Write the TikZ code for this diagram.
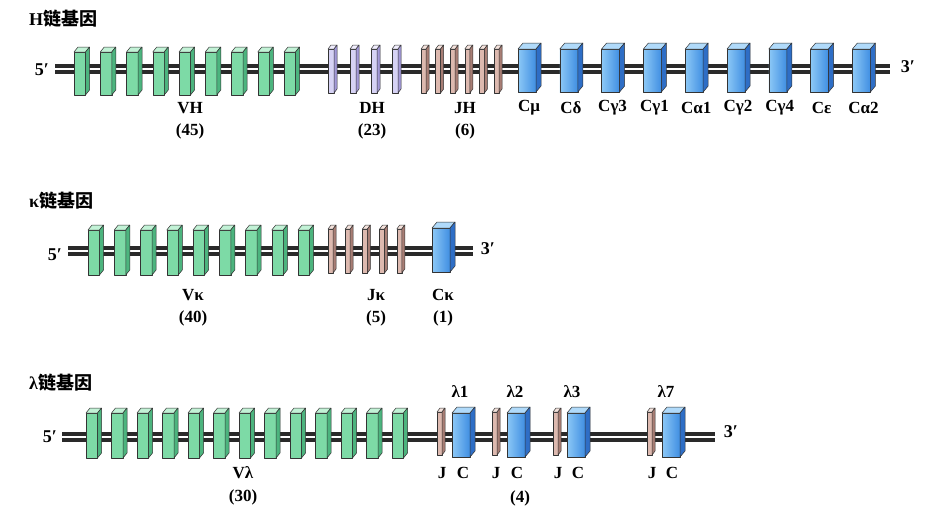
\documentclass[tikz,border=0pt]{standalone}
\usepackage{fontspec}
\setmainfont{Liberation Serif}
\newfontfamily\cjk{Noto Sans CJK SC}
\definecolor{greenfront}{HTML}{7DDAA6}
\definecolor{greentop}{HTML}{C2F2D6}
\definecolor{greenside}{HTML}{4CB47E}
\definecolor{purplefront}{HTML}{D6D2F5}
\definecolor{purpletop}{HTML}{F0EDFD}
\definecolor{purpleside}{HTML}{A399D8}
\definecolor{pinkfront}{HTML}{DDB9AF}
\definecolor{pinktop}{HTML}{F4E2DC}
\definecolor{pinkside}{HTML}{A87E75}
\definecolor{bluefront}{HTML}{5DA9EF}
\definecolor{bluelight}{HTML}{8CC8F6}
\definecolor{bluedark}{HTML}{3F8EE2}
\definecolor{bluetop}{HTML}{B0DAFA}
\definecolor{blueside}{HTML}{2E6EC6}
\definecolor{dnadark}{HTML}{2A2A2A}
\tikzset{
  boxline/.style={draw=black!80, line width=0.5pt, line join=round},
  lab/.style={font=\fontsize{17}{19}\selectfont\bfseries, inner sep=0pt},
  title/.style={font=\fontsize{18}{20}\selectfont\bfseries, inner sep=0pt, anchor=west},
  prime/.style={font=\fontsize{18}{20}\selectfont\bfseries, inner sep=0pt},
  greenfill/.style={fill=greenfront},
  purplefill/.style={fill=purplefront},
  pinkfill/.style={fill=pinkfront},
  bluefill/.style={left color=bluelight, right color=bluedark},
}
% x, front width, front top y, bottom y, dx, dy, colour prefix
\newcommand\genebox[7]{%
  \filldraw[boxline, #7fill] (#1,#3) rectangle (#1+#2,#4);
  \filldraw[boxline, fill=#7top] (#1,#3) -- (#1+#5,#3-#6) -- (#1+#2+#5,#3-#6) -- (#1+#2,#3) -- cycle;
  \filldraw[boxline, fill=#7side] (#1+#2,#3) -- (#1+#2+#5,#3-#6) -- (#1+#2+#5,#4-#6) -- (#1+#2,#4) -- cycle;
}
% dna line between two named coordinates
\newcommand\dna[2]{%
  \draw[dnadark, line width=9.5pt] (#1) -- (#2);
  \draw[white, line width=2.4pt] (#1) -- (#2);
}
\begin{document}
\begin{tikzpicture}[x=1pt,y=-1pt]
\useasboundingbox (0,0) rectangle (934,520);
\fill[white] (0,0) rectangle (934,520);

% ---------------- H chain ----------------
\node[title] (tH) at (29,19) {H{\cjk\bfseries 链基因}};
\coordinate (h5) at (55,69);
\coordinate (h3) at (890,69);
\dna{h5}{h3}
\foreach \i in {0,...,8} {\genebox{74+26.25*\i}{11.5}{52}{95}{4}{5}{green}}
\foreach \x in {328,350,371,392} {\genebox{\x}{6}{49}{93}{3}{4}{purple}}
\foreach \i in {0,...,5} {\genebox{421+14.6*\i}{5}{49}{93}{3}{4}{pink}}
\foreach \i in {0,...,8} {\genebox{518+41.8*\i}{18}{49}{92}{5}{6}{blue}}
\node[prime] (h5l) at (42,70) {5′};
\node[prime] (h3l) at (908,67) {3′};
\node[lab] (vh) at (190,108) {VH};
\node[lab] (vhn) at (190,131) {(45)};
\node[lab] (dh) at (372,108) {DH};
\node[lab] (dhn) at (372,131) {(23)};
\node[lab] (jh) at (465,108) {JH};
\node[lab] (jhn) at (465,131) {(6)};
\foreach \t [count=\k from 0] in {Cμ,Cδ,Cγ3,Cγ1,Cα1,Cγ2,Cγ4,Cε,Cα2}
  {\node[lab] (c\k) at (529+41.8*\k,108) {\t};}

% ---------------- kappa chain ----------------
\node[title] (tK) at (29,201) {κ{\cjk\bfseries 链基因}};
\coordinate (k5) at (68,251);
\coordinate (k3) at (473,251);
\dna{k5}{k3}
\foreach \i in {0,...,8} {\genebox{88+26.25*\i}{11.5}{230}{275}{4}{5}{green}}
\foreach \i in {0,...,4} {\genebox{328+17.2*\i}{5}{229}{273}{3}{4}{pink}}
\genebox{432}{18}{228}{272}{5}{6}{blue}
\node[prime] (k5l) at (55,255) {5′};
\node[prime] (k3l) at (488,249) {3′};
\node[lab] (vk) at (193,295) {Vκ};
\node[lab] (vkn) at (193,318) {(40)};
\node[lab] (jk) at (376,295) {Jκ};
\node[lab] (jkn) at (376,318) {(5)};
\node[lab] (ck) at (443,295) {Cκ};
\node[lab] (ckn) at (443,318) {(1)};

% ---------------- lambda chain ----------------
\node[title] (tL) at (29,383) {λ{\cjk\bfseries 链基因}};
\coordinate (l5) at (62,437);
\coordinate (l3) at (715,437);
\dna{l5}{l3}
\foreach \i in {0,...,12} {\genebox{86+25.5*\i}{11.5}{413}{458}{4}{5}{green}}
\foreach \x in {437,492,553,647} {\genebox{\x}{5}{412}{455}{3}{4}{pink}}
\foreach \x in {452,507,567,662} {\genebox{\x}{18}{413}{457}{5}{6}{blue}}
\node[prime] (l5l) at (50,437) {5′};
\node[prime] (l3l) at (731,432) {3′};
\node[lab] (la1) at (460,392) {λ1};
\node[lab] (la2) at (515,392) {λ2};
\node[lab] (la3) at (572,392) {λ3};
\node[lab] (la7) at (666,392) {λ7};
\foreach \j/\c [count=\k] in {442/463,496/517,558/578,652/672} {
  \node[lab] (j\k) at (\j,473) {J};
  \node[lab] (cc\k) at (\c,473) {C};
}
\node[lab] (ln) at (520,498) {(4)};
\node[lab] (vl) at (243,473) {Vλ};
\node[lab] (vln) at (243,497) {(30)};
\end{tikzpicture}
\end{document}
